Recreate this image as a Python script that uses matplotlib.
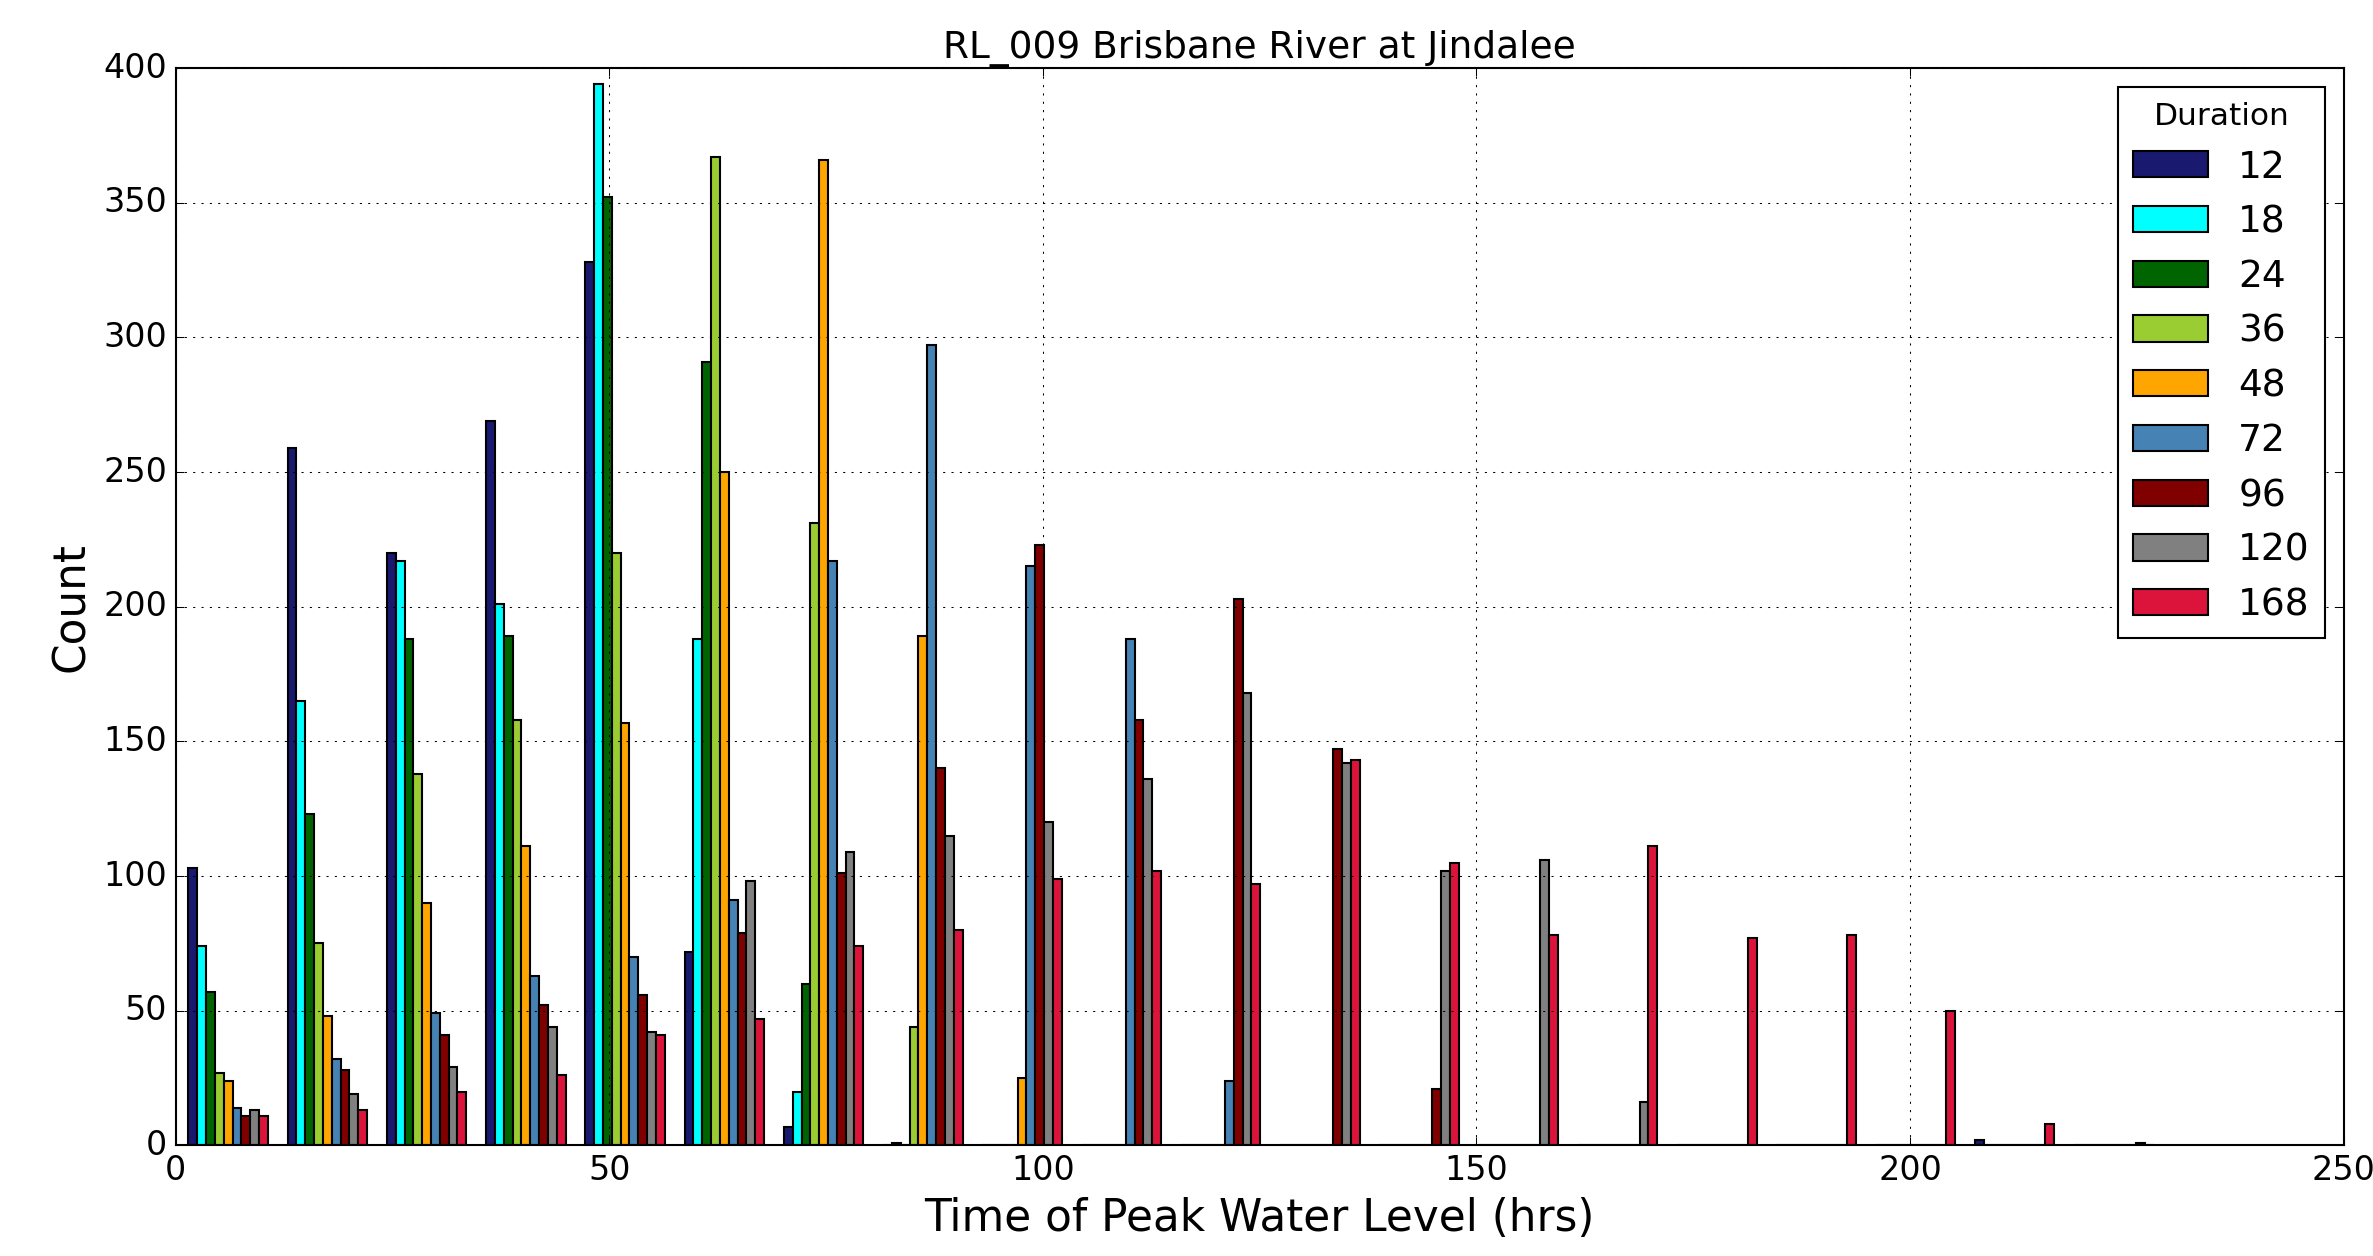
import matplotlib
matplotlib.use('Agg')
import matplotlib.pyplot as plt
import numpy as np

durations = ['12', '18', '24', '36', '48', '72', '96', '120', '168']
colours = ['midnightblue', 'cyan', 'darkgreen', 'yellowgreen', 'orange',
           'steelblue', 'maroon', 'grey', 'crimson']

# histogram bin range (hrs), 20 bins
bin_lo = 0.33
bin_hi = 229.22
n_bins = 20

# counts per bin for each duration
c12 = [103, 259, 220, 269, 328, 72, 7, 0, 0, 0, 0, 0, 0, 0, 0, 0, 0, 0, 2, 0]
c18 = [74, 165, 217, 201, 394, 188, 20, 1, 0, 0, 0, 0, 0, 0, 0, 0, 0, 0, 0, 0]
c24 = [57, 123, 188, 189, 352, 291, 60, 0, 0, 0, 0, 0, 0, 0, 0, 0, 0, 0, 0, 0]
c36 = [27, 75, 138, 158, 220, 367, 231, 44, 0, 0, 0, 0, 0, 0, 0, 0, 0, 0, 0, 0]
c48 = [24, 48, 90, 111, 157, 250, 366, 189, 25, 0, 0, 0, 0, 0, 0, 0, 0, 0, 0, 0]
c72 = [14, 32, 49, 63, 70, 91, 217, 297, 215, 188, 24, 0, 0, 0, 0, 0, 0, 0, 0, 0]
c96 = [11, 28, 41, 52, 56, 79, 101, 140, 223, 158, 203, 147, 21, 0, 0, 0, 0, 0, 0, 0]
c120 = [13, 19, 29, 44, 42, 98, 109, 115, 120, 136, 168, 142, 102, 106, 16, 0, 0, 0, 0, 1]
c168 = [11, 13, 20, 26, 41, 47, 74, 80, 99, 102, 97, 143, 105, 78, 111, 77, 78, 50, 8, 0]

counts = [c12, c18, c24, c36, c48, c72, c96, c120, c168]

plt.style.use('classic')

edges = np.linspace(bin_lo, bin_hi, n_bins + 1)
centres = 0.5 * (edges[:-1] + edges[1:])

fig = plt.figure(figsize=(15.8204, 8.3740), dpi=150)
ax = fig.add_axes([0.074, 0.088, 0.9136, 0.8578])

ax.hist([centres] * len(counts), bins=edges, weights=counts,
        color=colours, label=durations)

ax.set_xlim(0, 250)
ax.set_ylim(0, 400)
ax.grid(True)
ax.set_title('RL_009 Brisbane River at Jindalee', fontsize=18)
ax.set_xlabel('Time of Peak Water Level (hrs)', fontsize=21)
ax.set_ylabel('Count', fontsize=21)
ax.tick_params(labelsize=16)

leg = ax.legend(loc='upper right', title='Duration', fontsize=18)
leg.get_title().set_fontsize(15)

fig.savefig('out.png', dpi=150)
